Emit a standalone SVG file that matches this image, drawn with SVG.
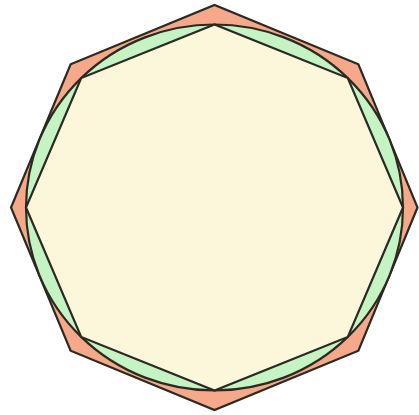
<svg xmlns="http://www.w3.org/2000/svg" width="419" height="415" viewBox="0 0 419 415">
<style>
.ln{stroke:#2a2a22;stroke-width:2.2;stroke-linejoin:miter}
</style>
<rect width="419" height="415" fill="#ffffff"/>
<g id="outer-octagon">
<polygon class="ln" fill="#f5a98a" points="417.5,207.5 358.4,350.69 214.5,410 70.6,350.69 11,207.5 70.6,64.31 214.5,5 358.4,64.31"/>
</g>
<g id="circle">
<ellipse class="ln" fill="#c6f3c4" cx="214.5" cy="207.5" rx="188.5" ry="183"/>
</g>
<g id="inner-octagon">
<polygon class="ln" fill="#fcf6da" points="403,207.5 347.8,336.9 214.5,390.5 81.2,336.9 26,207.5 81.2,78.1 214.5,24.5 347.8,78.1"/>
</g>
</svg>
